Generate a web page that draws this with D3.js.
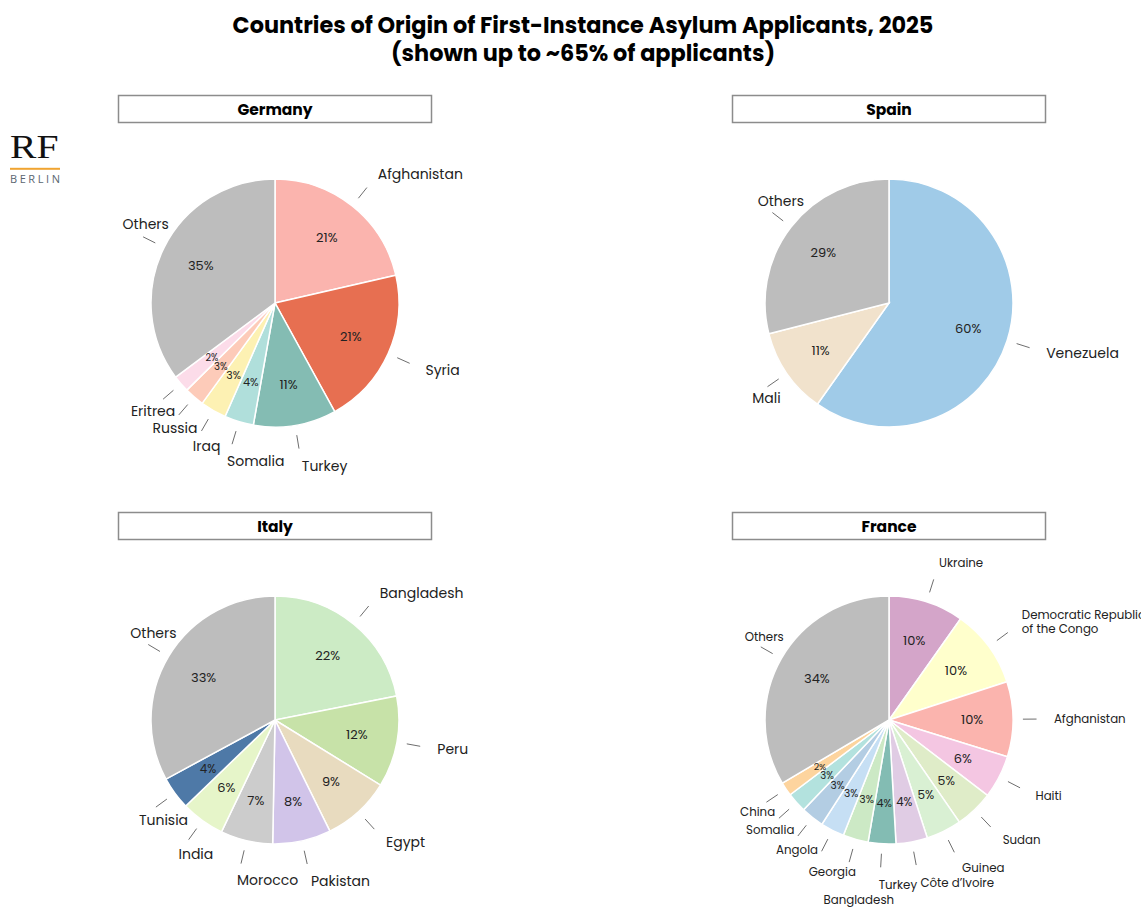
<!DOCTYPE html>
<html>
<head>
<meta charset="utf-8">
<script src="https://cdn.jsdelivr.net/npm/d3@7"></script>
<style>
  body { margin: 0; background: #fff; }
  svg { display: block; font-family: Poppins, "Open Sans", sans-serif; }
</style>
</head>
<body>
<svg id="chart" width="1141" height="908"></svg>
<script>
// ---- Data: share of first-instance asylum applicants (%) ----
const germanyCountries = ["Afghanistan", "Syria", "Turkey", "Somalia", "Iraq", "Russia", "Eritrea", "Others"];
const germanyShares    = [21.4, 20.6, 10.8, 3.8, 3.4, 2.6, 2.2, 35.2];

const spainCountries = ["Venezuela", "Mali", "Others"];
const spainShares    = [59.8, 11.2, 29.0];

const italyCountries = ["Bangladesh", "Peru", "Egypt", "Pakistan", "Morocco", "India", "Tunisia", "Others"];
const italyShares    = [21.9, 11.9, 8.9, 7.6, 6.8, 5.7, 4.3, 32.9];

const franceCountries = ["Ukraine", "Democratic Republic\nof the Congo", "Afghanistan", "Haiti", "Sudan", "Guinea",
                         "Côte d’Ivoire", "Turkey", "Bangladesh", "Georgia", "Angola", "Somalia", "China", "Others"];
const franceShares    = [9.8, 10.2, 9.8, 5.6, 5.0, 4.6, 4.1, 3.6, 3.3, 3.1, 3.0, 2.6, 1.8, 33.5];

// ---- Slice palettes ----
const germanyPalette = ["#fbb4ae", "#e76f51", "#84bcb3", "#b0dfdb", "#fdf1b3", "#fdcbb9", "#fcdce9", "#bdbdbd"];
const spainPalette   = ["#a0cbe8", "#f1e2cc", "#bdbdbd"];
const italyPalette   = ["#ccebc5", "#c7e2a8", "#e8dbbf", "#d1c4e9", "#cccccc", "#e6f5c9", "#4e79a7", "#bdbdbd"];
const francePalette  = ["#d4a5c9", "#ffffcc", "#fbb4ae", "#f4c6e2", "#dfecc8", "#d9f0d3", "#e0cce4", "#83bcb3",
                        "#cce9c5", "#c6dff4", "#b3cde3", "#b3e2de", "#fdd49e", "#bdbdbd"];

const panels = [
  { title: "Germany", names: germanyCountries, values: germanyShares, palette: germanyPalette, col: 0, row: 0, nameSize: 14 },
  { title: "Spain",   names: spainCountries,   values: spainShares,   palette: spainPalette,   col: 1, row: 0, nameSize: 14 },
  { title: "Italy",   names: italyCountries,   values: italyShares,   palette: italyPalette,   col: 0, row: 1, nameSize: 14 },
  { title: "France",  names: franceCountries,  values: franceShares,  palette: francePalette,  col: 1, row: 1, nameSize: 11.8 }
];

// ---- Layout ----
const svg = d3.select("#chart");
const radius = 124;
const colX = d3.scalePoint().domain([0, 1]).range([275, 889]);
const rowY = d3.scalePoint().domain([0, 1]).range([303, 720]);
const pctSize = d3.scaleLinear().domain([2, 5.5]).range([9.5, 13]).clamp(true);

// Title
const title = svg.append("text")
  .attr("x", 583).attr("text-anchor", "middle")
  .attr("font-weight", 700).attr("font-size", 22.4).attr("fill", "#000");
title.append("tspan").attr("x", 583).attr("y", 25).attr("dominant-baseline", "central")
  .text("Countries of Origin of First-Instance Asylum Applicants, 2025");
title.append("tspan").attr("x", 583).attr("y", 53).attr("dominant-baseline", "central")
  .text("(shown up to ~65% of applicants)");

// Logo
const logo = svg.append("g").attr("transform", "translate(10,0)");
logo.append("text").attr("x", 0).attr("y", 158)
  .attr("transform", "scale(1.2,1)")
  .attr("font-family", "'Liberation Serif', 'DejaVu Serif', serif")
  .attr("font-size", 33).attr("fill", "#111").text("RF");
logo.append("rect").attr("x", 0).attr("y", 167.8).attr("width", 50).attr("height", 2).attr("fill", "#f0a431");
logo.append("text").attr("x", 0).attr("y", 182.5)
  .attr("font-family", "'Open Sans', sans-serif")
  .attr("font-size", 11).attr("fill", "#5b6670")
  .attr("textLength", 50).attr("lengthAdjust", "spacing").text("BERLIN");

const pie = d3.pie().sort(null).value(d => d.value).startAngle(0).endAngle(2 * Math.PI);
const arc = d3.arc().innerRadius(0).outerRadius(radius);
const pctArc = d3.arc().innerRadius(radius * 0.67).outerRadius(radius * 0.67);

panels.forEach(p => {
  const cx = colX(p.col), cy = rowY(p.row);
  const g = svg.append("g").attr("transform", `translate(${cx},${cy})`);

  // Panel heading box
  g.append("rect")
    .attr("x", -156.5).attr("y", -207.5).attr("width", 313).attr("height", 27)
    .attr("fill", "#fff").attr("stroke", "#8c8c8c").attr("stroke-width", 1.5);
  g.append("text").attr("x", 0).attr("y", -193.5).attr("text-anchor", "middle")
    .attr("dominant-baseline", "central").attr("font-weight", 700).attr("font-size", 15.5)
    .attr("fill", "#000").text(p.title);

  const rows = p.names.map((n, i) => ({ name: n, value: p.values[i], color: p.palette[i] }));
  const slices = pie(rows);

  // Wedges
  g.selectAll("path.slice").data(slices).join("path")
    .attr("class", "slice").attr("d", arc)
    .attr("fill", d => d.data.color)
    .attr("stroke", "#fff").attr("stroke-width", 1.5);

  // Percent labels
  g.selectAll("text.pct").data(slices).join("text")
    .attr("class", "pct")
    .attr("transform", d => `translate(${pctArc.centroid(d)})`)
    .attr("text-anchor", "middle").attr("dominant-baseline", "central")
    .attr("font-size", d => pctSize(d.data.value)).attr("fill", "#222")
    .text(d => Math.round(d.data.value) + "%");

  // Leader ticks
  const mid = d => (d.startAngle + d.endAngle) / 2;
  const ticks = slices.map(d => {
    const a = mid(d);
    return [[Math.sin(a) * radius * 1.08, -Math.cos(a) * radius * 1.08],
            [Math.sin(a) * radius * 1.19, -Math.cos(a) * radius * 1.19]];
  });
  g.selectAll("line.tick").data(ticks).join("line")
    .attr("class", "tick")
    .attr("x1", t => t[0][0]).attr("y1", t => t[0][1])
    .attr("x2", t => t[1][0]).attr("y2", t => t[1][1])
    .attr("stroke", "#6e6e6e").attr("stroke-width", 1);

  // Country labels: start at 1.33r on the slice bisector, nudged off ticks, wedges and each other
  const pad = 3;
  const placed = [];
  const clear = b => {
    for (const q of placed) {
      if (b.x0 < q.x1 + pad && b.x1 > q.x0 - pad && b.y0 < q.y1 + pad && b.y1 > q.y0 - pad) return false;
    }
    for (const t of ticks) {
      for (let s = 0; s <= 1.0001; s += 0.2) {
        const x = t[0][0] + (t[1][0] - t[0][0]) * s, y = t[0][1] + (t[1][1] - t[0][1]) * s;
        if (x > b.x0 - pad && x < b.x1 + pad && y > b.y0 - pad && y < b.y1 + pad) return false;
      }
    }
    const nx = Math.max(b.x0, Math.min(0, b.x1)), ny = Math.max(b.y0, Math.min(0, b.y1));
    if (Math.hypot(nx, ny) < radius + pad) return false;
    return true;
  };

  slices.forEach(d => {
    const a = mid(d), s = Math.sin(a), c = Math.cos(a);
    const px = s * radius * 1.33, py = -c * radius * 1.33;
    const lines = d.data.name.split("\n");
    const lh = p.nameSize * 1.2;
    const t = g.append("text").attr("font-size", p.nameSize).attr("fill", "#222");
    lines.forEach(l => t.append("tspan").attr("dominant-baseline", "central").text(l));
    let w = 0;
    t.selectAll("tspan").each(function () { w = Math.max(w, this.getComputedTextLength()); });
    const h = lines.length * p.nameSize * (lines.length > 1 ? 1.2 : 1.0);
    const dirH = s >= 0 ? 1 : -1, dirV = c >= 0 ? -1 : 1;
    const cands = [];
    for (let k = 0; k <= 90; k++) {
      cands.push({ dx: k * dirH, dy: 0, cost: k });
      cands.push({ dx: 0, dy: k * dirV, cost: k * 1.6 });
      cands.push({ dx: k * dirH, dy: k * dirV, cost: k * 1.5 });
    }
    cands.sort((u, v) => u.cost - v.cost);
    let best = cands.find(cd => clear({ x0: px + cd.dx, x1: px + cd.dx + w, y0: py + cd.dy - h / 2, y1: py + cd.dy + h / 2 }))
      || { dx: 0, dy: 0 };
    const x0 = px + best.dx, yc = py + best.dy;
    placed.push({ x0: x0, x1: x0 + w, y0: yc - h / 2, y1: yc + h / 2 });
    t.selectAll("tspan")
      .attr("x", x0)
      .attr("y", (l, i) => yc - (lines.length - 1) * lh / 2 + i * lh);
  });
});
</script>
</body>
</html>
